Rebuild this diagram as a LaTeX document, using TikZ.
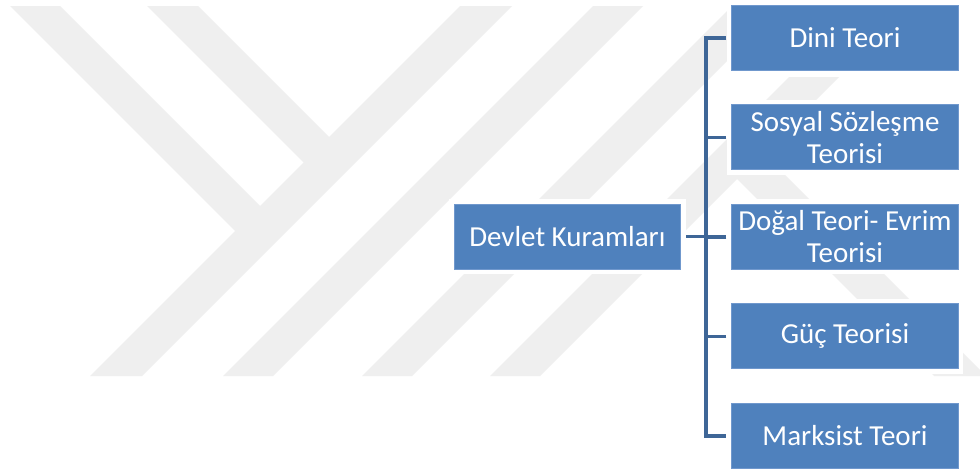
\documentclass[tikz,border=0pt]{standalone}
\usepackage{fontspec}
\setmainfont{Carlito}
\definecolor{boxblue}{RGB}{79,129,189}
\definecolor{boxedge}{RGB}{112,152,205}
\definecolor{connblue}{RGB}{62,102,151}
\definecolor{wm}{RGB}{239,239,239}
\tikzset{
  tbox/.style={rectangle, fill=boxblue, draw=boxedge, line width=0.8pt,
    minimum width=226.6pt, minimum height=65pt, inner sep=0pt,
    align=center, text=white, font=\fontsize{29}{32}\selectfont,
    preaction={draw=white, line width=10pt}},
  conn/.style={draw=connblue, line width=3.6pt, line join=miter},
  wmark/.style={fill=wm, draw=none}
}
\begin{document}
\begin{tikzpicture}[x=1pt,y=-1pt]
\useasboundingbox (0,0) rectangle (980,471);
\fill[white] (0,0) rectangle (980,471);
% watermark
\begin{scope}
\clip (0,0) rectangle (980,471);
\fill[wmark] (10,6) -- (60,6) -- (272,218) -- (247,243) -- cycle;
\fill[wmark] (147,6) -- (198,6) -- (341,149) -- (315.5,174.5) -- cycle;
\fill[wmark] (460,6) -- (512,6) -- (142,376) -- (90,376) -- cycle;
\fill[wmark] (593,6) -- (643,6) -- (273,376) -- (223,376) -- cycle;
\fill[wmark] (732,6) -- (782,6) -- (412,376) -- (362,376) -- cycle;
\fill[wmark] (789,77) -- (839,77) -- (540,376) -- (490,376) -- cycle;
\fill[wmark] (750,140) -- (986,376) -- (934,376) -- (724,166) -- cycle;
\end{scope}
% nodes
\node[tbox] (root) at (567.4,236.5) {Devlet Kuramları};
\node[tbox] (c1) at (845,37.8) {Dini Teori};
\node[tbox] (c2) at (845,137.3) {Sosyal Sözleşme\\Teorisi};
\node[tbox] (c3) at (845,236.8) {Doğal Teori- Evrim\\Teorisi};
\node[tbox] (c4) at (845,336.3) {Güç Teorisi};
\node[tbox] (c5) at (845,435.8) {Marksist Teori};
\coordinate (tr) at (706,0);
% connectors
\draw[conn] ([xshift=-5pt]c1.west) -| (tr |- c5.west) -- ([xshift=-5pt]c5.west);
\draw[conn] ([xshift=5pt]root.east) -- (tr |- root.east);
\draw[conn] ([xshift=-5pt]c2.west) -- (tr |- c2.west);
\draw[conn] ([xshift=-5pt]c3.west) -- (tr |- c3.west);
\draw[conn] ([xshift=-5pt]c4.west) -- (tr |- c4.west);
\end{tikzpicture}
\end{document}
